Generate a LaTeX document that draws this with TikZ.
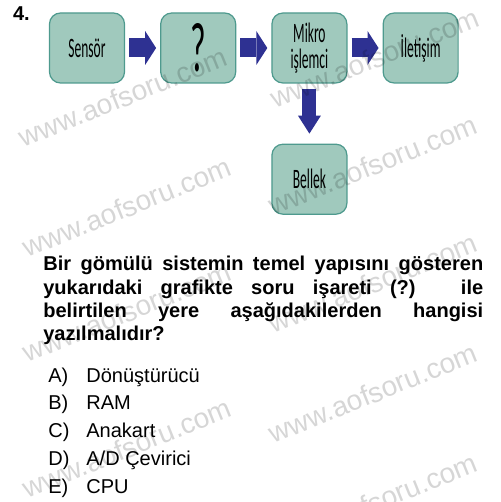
\documentclass[tikz,border=0pt]{standalone}
\usepackage{fontspec}
\setmainfont{Liberation Sans}
\newfontfamily\kutufont[FakeStretch=0.48]{Carlito}
\usetikzlibrary{positioning,arrows.meta}
\definecolor{kutuyesil}{RGB}{160,201,189}
\definecolor{kutukenar}{RGB}{78,154,142}
\definecolor{okmavi}{RGB}{46,49,146}
\tikzstyle{kutu} = [rectangle, rounded corners=0.22cm, minimum width=1.5cm, minimum height=1.4cm, draw=kutukenar, line width=0.7pt, fill=kutuyesil, align=center, inner sep=0pt, font=\kutufont\fontsize{16}{14.4}\selectfont]
\tikzstyle{ok} = [draw=okmavi, line width=0.38cm, -{Triangle[length=0.22cm, width=0.68cm, line width=0pt]}, shorten <=0.08cm, shorten >=0.08cm]
\tikzstyle{asagiok} = [draw=okmavi, line width=0.28cm, -{Triangle[length=0.36cm, width=0.46cm, line width=0pt]}, shorten <=0.1cm, shorten >=0.2cm]
\tikzstyle{secenek} = [anchor=base west, inner sep=0pt, font=\fontsize{11.4}{13}\selectfont]
\tikzstyle{filigran} = [text=black, text opacity=0.16, inner sep=0pt, rotate=22, font=\fontsize{16}{16}\selectfont]

\begin{document}
\begin{tikzpicture}[x=0.02cm, y=-0.02cm]
        \useasboundingbox (0,0) rectangle (500,502);
        
        \node (no) [anchor=base west, inner sep=0pt, font=\bfseries\fontsize{11.4}{13}\selectfont] at (12.7,20.7) {4.};
        
        \node (sensor) [kutu] at (87,48) {Sensör};
        \node (soru) [kutu, right=0.7cm of sensor, font=\kutufont\fontsize{40}{40}\selectfont] {?};
        \node (mikro) [kutu, right=0.7cm of soru] {Mikro\\işlemci};
        \node (iletisim) [kutu, right=0.7cm of mikro] {İletişim};
        \node (bellek) [kutu, below=1.2cm of mikro] {Bellek};
        
        \draw[ok] (sensor) -- (soru);
        \draw[ok] (soru) -- (mikro);
        \draw[ok] (mikro) -- (iletisim);
        \draw[asagiok] (mikro) -- (bellek);
        
        \node (metin) [anchor=north west, text width=8.8cm, align=justify, inner sep=0pt, font=\bfseries\fontsize{11.4}{13.2}\selectfont] at (43,256) {Bir gömülü sistemin temel yapısını gösteren\linebreak yukarıdaki grafikte soru işareti (?) ile\linebreak belirtilen yere aşağıdakilerden hangisi\linebreak yazılmalıdır?};
        
        \node (A) [secenek] at (48,382) {\makebox[0.76cm][l]{A)}Dönüştürücü};
        \node (B) [secenek] at (48,409.8) {\makebox[0.76cm][l]{B)}RAM};
        \node (C) [secenek] at (48,437.6) {\makebox[0.76cm][l]{C)}Anakart};
        \node (D) [secenek] at (48,465.4) {\makebox[0.76cm][l]{D)}A/D Çevirici};
        \node (E) [secenek] at (48,493.2) {\makebox[0.76cm][l]{E)}CPU};
        
        % filigranlar
        \node (wm1) [filigran] at (123,97) {www.aofsoru.com};
        \node (wm2) [filigran] at (127,207) {www.aofsoru.com};
        \node (wm3) [filigran] at (127,312) {www.aofsoru.com};
        \node (wm4) [filigran] at (127,448) {www.aofsoru.com};
        \node (wm5) [filigran] at (375,58) {www.aofsoru.com};
        \node (wm6) [filigran] at (373,165) {www.aofsoru.com};
        \node (wm7) [filigran] at (373,283) {www.aofsoru.com};
        \node (wm8) [filigran] at (373,393) {www.aofsoru.com};
        \node (wm9) [filigran] at (373,503) {www.aofsoru.com};
        
    \end{tikzpicture}
\end{document}
